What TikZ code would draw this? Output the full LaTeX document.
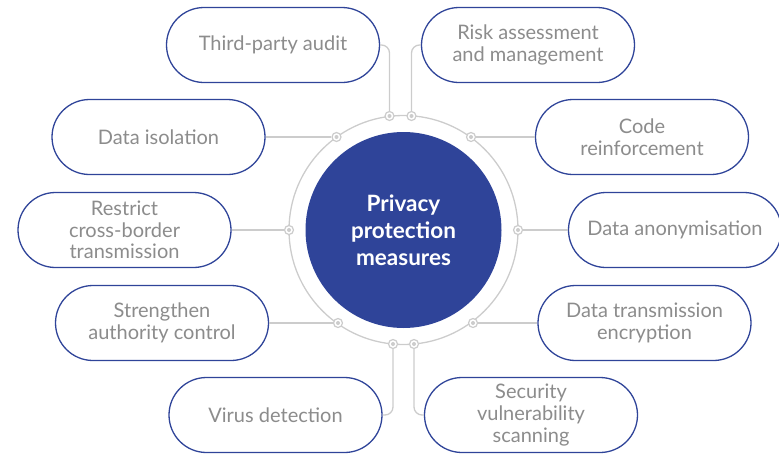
\documentclass[tikz,border=0pt]{standalone}
\usepackage{fontspec}
\setmainfont{Lato}
\definecolor{pblue}{HTML}{2F4499}
\definecolor{plgray}{HTML}{CCCCCC}
\definecolor{ptext}{HTML}{8C8C8C}
\begin{document}
\begin{tikzpicture}[x=1pt,y=-1pt,
  box/.style={draw=pblue, line width=1.3pt, fill=white, rounded corners=37.5pt,
    minimum width=213pt, minimum height=75pt, inner sep=0pt, align=center,
    text=ptext, font=\fontsize{20}{21.7}\selectfont},
  conn/.style={draw=plgray, line width=1.3pt, rounded corners=8pt},
  dot/.style={circle, draw=plgray, line width=1.2pt, fill=white, minimum size=9pt, inner sep=0pt,
    path picture={\fill[plgray] (path picture bounding box.center) circle (2pt);}}
]
\useasboundingbox (0,0) rectangle (779,453);
% ring and center
\draw[plgray, line width=1.3pt] (403.5,230) circle[radius=114.5pt];
\node[circle, fill=pblue, minimum size=196pt, inner sep=0pt, text=white, align=center,
  font=\bfseries\fontsize{22.5}{27}\selectfont] (center) at (403.5,230) {Privacy\\protection\\measures};
% boxes
\node[box] (tpa) at (273,45) {Third-party audit};
\node[box] (risk) at (528,45) {Risk assessment\\and management};
\node[box] (iso) at (158.5,137) {Data isolation};
\node[box] (code) at (642,137) {Code\\reinforcement};
\node[box] (restrict) at (124.5,230) {Restrict\\cross-border\\transmission};
\node[box] (anon) at (675,230) {Data anonymisation};
\node[box] (str) at (162,323) {Strengthen\\authority control};
\node[box] (enc) at (644.5,323) {Data transmission\\encryption};
\node[box] (virus) at (275.5,415) {Virus detection};
\node[box] (sec) at (531,415) {Security\\vulnerability\\scanning};
% dots
\node[dot] (dTL) at (389.5,116) {};
\node[dot] (dTR) at (411.5,116) {};
\node[dot] (dUL) at (336.5,137) {};
\node[dot] (dUR) at (471,137) {};
\node[dot] (dL) at (289,230) {};
\node[dot] (dR) at (518,230) {};
\node[dot] (dLL) at (338,323) {};
\node[dot] (dLR) at (473,323) {};
\node[dot] (dBL) at (393,344) {};
\node[dot] (dBR) at (414,344) {};
% connectors
\draw[conn] (tpa.east) -| (dTL);
\draw[conn] (risk.west) -| (dTR);
\draw[conn] (iso.east) -- (dUL);
\draw[conn] (dUR) -- (code.west);
\draw[conn] (restrict.east) -- (dL);
\draw[conn] (dR) -- (anon.west);
\draw[conn] (str.east) -- (dLL);
\draw[conn] (dLR) -- (enc.west);
\draw[conn] (dBL) |- (virus.east);
\draw[conn] (dBR) |- (sec.west);
\end{tikzpicture}
\end{document}
